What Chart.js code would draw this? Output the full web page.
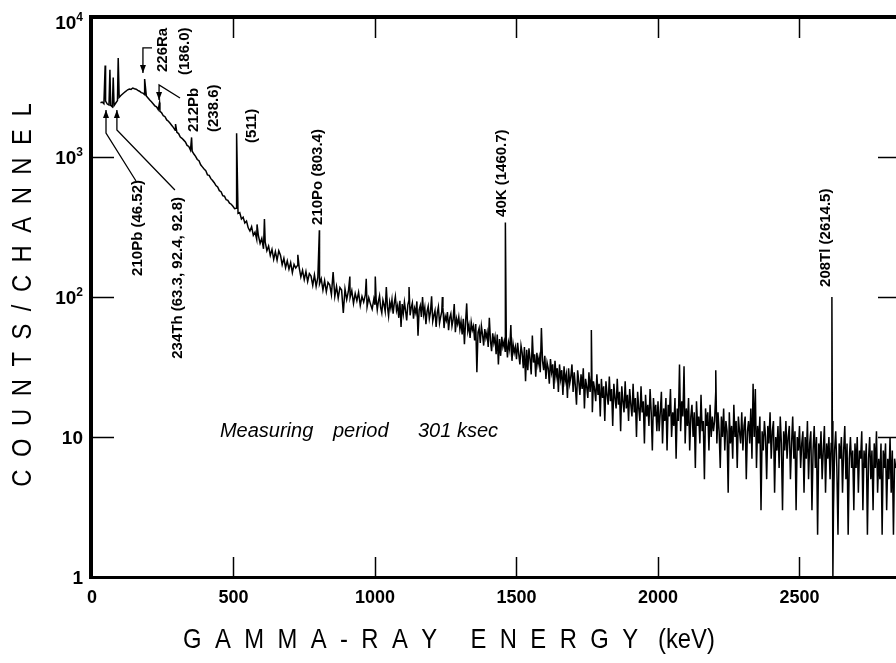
<!DOCTYPE html>
<html>
<head>
<meta charset="utf-8">
<script src="https://cdn.jsdelivr.net/npm/chart.js@4.4.1/dist/chart.umd.min.js"></script>
<style>
  html, body { margin: 0; padding: 0; background: #fff; }
  #wrap { width: 896px; height: 663px; }
</style>
</head>
<body>
<div id="wrap"><canvas id="chartEspectro" width="896" height="663"></canvas></div>
<script>
// ── DATOS: cuentas por canal ──
// 30 – 498 keV, cada 6 keV
const lowStart = 30, lowStep = 6;
const lowCounts = [2440, 2470, 2400, 2510, 2390, 2350, 2340, 2280, 2330, 2430, 2530, 2670, 2750, 2820, 2890, 2950,
  3020, 3060, 3040, 3110, 3070, 3050, 2990, 2950, 2880, 2860, 2790, 2730, 2640, 2550, 2480, 2400, 2320, 2280, 2180,
  2120, 2070, 1970, 1940, 1840, 1800, 1740, 1680, 1620, 1550, 1500, 1470, 1390, 1360, 1320, 1280, 1210, 1190, 1120,
  1100, 1050, 1010, 960, 940, 880, 850, 820, 800, 745, 740, 700, 680, 655, 625, 610, 575, 565, 530, 525, 495, 490,
  468, 460, 445];

// 504 – 996 keV, cada 6 keV
const midStart = 504, midStep = 6;
const midCounts = [428, 431, 396, 401, 361, 372, 338, 349, 312, 296, 318, 276, 291, 258, 274, 241, 262, 221, 247, 214,
  231, 198, 219, 186, 211, 183, 214, 199, 170, 189, 162, 181, 158, 176, 149, 171, 161, 168, 163, 139, 155, 133, 152,
  129, 147, 141, 121, 144, 119, 138, 124, 135, 112, 131, 109, 127, 122, 104, 151, 101, 119, 98, 117, 112, 77, 114,
  96, 110, 99, 111, 90, 106, 94, 108, 87, 101, 92, 104, 85, 99, 89, 82, 97];

// 1000 – 1996 keV, cada 4 keV
const highStart = 1000, highStep = 4;
const highCounts = [
  88, 97, 81, 93, 102, 84, 77, 95, 88, 79, 118, 85, 73, 92, 83, 96, 76, 90, 101, 80, 87, 71, 94, 61, 89,
  76, 92, 80, 68, 88, 95, 74, 84, 91, 70, 83, 77, 93, 53, 81, 87, 72, 100, 75, 84, 64, 79, 86, 70, 78,
  101, 67, 74, 80, 61, 77, 85, 65, 72, 79, 84, 60, 73, 68, 78, 58, 71, 76, 62, 69, 89, 56, 70, 64, 72,
  59, 67, 54, 70, 46, 66, 90, 57, 63, 51, 66, 58, 62, 49, 64, 29, 56, 60, 47, 62, 54, 45, 59, 51, 56,
  44, 71, 49, 41, 55, 47, 52, 39, 54, 33, 50, 38, 52, 44, 48, 41, 50, 37, 47, 42, 63, 35, 46, 40, 44,
  36, 47, 39, 33, 45, 40, 31, 44, 25, 42, 30, 43, 36, 28, 53, 34, 39, 27, 40, 33, 37, 29, 60, 35, 30,
  38, 26, 34, 31, 24, 36, 29, 33, 22, 35, 27, 31, 21, 33, 26, 30, 20, 32, 25, 28, 19, 31, 24, 27, 33,
  21, 29, 23, 17, 30, 25, 20, 28, 22, 31, 16, 26, 23, 19, 29, 21, 27, 15, 25, 22, 18, 28, 20, 24, 14,
  26, 19, 23, 13, 25, 20, 17, 27, 18, 22, 12, 24, 19, 16, 26, 17, 21, 11, 23, 18, 15, 25, 16, 20, 13,
  22, 17, 14, 24, 15, 19, 10, 21, 16, 13, 23, 15, 18, 9, 20, 14, 17, 12, 22, 15, 8, 19, 14, 17, 11];

// 2000 – 2840 keV, cada 4 keV
const tailStart = 2000, tailStep = 4;
const tailCounts = [
  18, 11, 15, 21, 9, 16, 13, 19, 8, 17, 14, 22, 10, 15, 12, 19, 7, 16, 13, 33, 11, 18, 14, 32, 9,
  16, 12, 19, 8, 14, 17, 10, 15, 6, 18, 12, 14, 9, 20, 11, 13, 5, 16, 12, 15, 8, 17, 10, 14, 11,
  13, 21, 9, 15, 11, 6, 14, 10, 16, 8, 13, 11, 4, 15, 9, 12, 7, 17, 10, 13, 6, 14, 11, 9, 15,
  8, 12, 14, 5, 11, 13, 9, 16, 7, 24, 10, 22, 6, 12, 9, 14, 3, 11, 8, 13, 10, 5, 12, 9, 15,
  7, 11, 13, 4, 10, 8, 12, 6, 14, 9, 3, 11, 8, 13, 7, 10, 12, 5, 9, 14, 7, 11, 3, 10, 8,
  12, 6, 9, 11, 4, 10, 7, 13, 5, 9, 11, 3, 8, 12, 6, 10, 2, 9, 7, 11, 5, 8, 12, 4, 9,
  7, 10, 5, 9, 13, 3, 8, 11, 6, 2, 9, 7, 10, 4, 8, 12, 5, 9, 2, 7, 10, 6, 8, 3, 9,
  6, 10, 4, 8, 7, 11, 3, 8, 6, 9, 2, 7, 10, 5, 8, 3, 9, 6, 11, 4, 7, 5, 9, 2, 8,
  6, 9, 3, 7, 5, 10, 4, 8, 2, 7, 6];

// picos (energía keV / cuentas en el canal del pico)
const peakKeV = [46.5, 63.3, 75.0, 92.6, 186.0, 238.6, 295.2, 351.9, 511.0, 583.2, 609.3, 727.3, 803.4, 911.2,
  969.0, 1001.0, 1120.3, 1238.1, 1460.7, 1764.5, 2204.1, 2614.5, 2618.0];
const peakCounts = [4500, 4200, 3700, 5100, 3600, 2450, 1720, 1380, 1480, 330, 360, 200, 300, 140,
  135, 140, 118, 100, 340, 58, 30, 100, 1];

const xTickValues = [0, 500, 1000, 1500, 2000, 2500];
const yTicks = [1, 10, 100, 1000, 10000];
const yTickBase = ["1", "10", "10", "10", "10"];
const yTickExp = ["", "", "2", "3", "4"];

// ── tabla de puntos ──
const puntos = [];
[[lowStart, lowStep, lowCounts], [midStart, midStep, midCounts],
 [highStart, highStep, highCounts], [tailStart, tailStep, tailCounts]]
  .forEach(([s, st, arr]) => arr.forEach((c, i) => puntos.push({ x: s + i * st, y: c })));
peakKeV.forEach((e, i) => puntos.push({ x: e, y: peakCounts[i] }));
puntos.sort((a, b) => a.x - b.x);

// ── anotaciones (posición en unidades de datos: keV / cuentas) ──
const FONT = "'Liberation Sans', Arial, sans-serif";
const etiquetas = [
  { text: "210Pb (46.52)", e: 161, c: 685, anchor: "end" },
  { text: "234Th (63.3, 92.4, 92.8)", e: 304, c: 518, anchor: "end" },
  { text: "226Ra", e: 251, c: 4046, anchor: "start" },
  { text: "(186.0)", e: 329, c: 3853, anchor: "start" },
  { text: "212Pb", e: 360, c: 1509, anchor: "start" },
  { text: "(238.6)", e: 431, c: 1509, anchor: "start" },
  { text: "(511)", e: 565, c: 1259, anchor: "start" },
  { text: "210Po (803.4)", e: 799, c: 327, anchor: "start" },
  { text: "40K (1460.7)", e: 1449, c: 373, anchor: "start" },
  { text: "208Tl (2614.5)", e: 2594, c: 118, anchor: "start" }
];
// líneas guía: la flecha va en el primer punto (arrowAt: "first") o en el último
const guias = [
  { pts: [[49.5, 2167], [49.5, 1484], [155.5, 674]], arrowAt: "first" },
  { pts: [[88, 2167], [88, 1560], [293, 581]], arrowAt: "first" },
  { pts: [[212, 6010], [180, 6010], [180, 3981]], arrowAt: "last" },
  { pts: [[311, 2637], [237, 3268], [237, 2553]], arrowAt: "last" }
];

function arrowHead(ctx, x1, y1, x2, y2) {
  // punta en (x2, y2)
  const a = Math.atan2(y2 - y1, x2 - x1);
  ctx.beginPath();
  ctx.moveTo(x2, y2);
  ctx.lineTo(x2 - 8 * Math.cos(a) + 3 * Math.sin(a), y2 - 8 * Math.sin(a) - 3 * Math.cos(a));
  ctx.lineTo(x2 - 8 * Math.cos(a) - 3 * Math.sin(a), y2 - 8 * Math.sin(a) + 3 * Math.cos(a));
  ctx.closePath();
  ctx.fill();
}

function spacedText(ctx, parts, cx, cy, rot, font, sx) {
  ctx.save();
  ctx.translate(cx, cy);
  if (rot) ctx.rotate(rot);
  ctx.font = font;
  ctx.textBaseline = "middle";
  ctx.textAlign = "left";
  const glyphs = [];
  parts.forEach(p => [...p.t].forEach(ch => glyphs.push({ ch, w: ctx.measureText(ch).width * sx, gap: p.gap })));
  let total = 0;
  glyphs.forEach((g, i) => { total += g.w + (i < glyphs.length - 1 ? g.gap : 0); });
  let x = -total / 2;
  glyphs.forEach(g => {
    ctx.save();
    ctx.translate(x, 0);
    ctx.scale(sx, 1);
    ctx.fillText(g.ch, 0, 0);
    ctx.restore();
    x += g.w + g.gap;
  });
  ctx.restore();
}

const marco = {
  id: "marco",
  afterDatasetsDraw(chart) {
    const { ctx, chartArea: a, scales: { x, y } } = chart;
    ctx.save();
    ctx.fillStyle = "#000";
    ctx.strokeStyle = "#000";

    // marco
    ctx.lineWidth = 4;
    ctx.beginPath(); ctx.moveTo(89, a.top); ctx.lineTo(a.right, a.top); ctx.stroke();
    ctx.beginPath(); ctx.moveTo(a.left - 1, a.top - 2); ctx.lineTo(a.left - 1, a.bottom + 2); ctx.stroke();
    ctx.lineWidth = 3;
    ctx.beginPath(); ctx.moveTo(89, a.bottom + 0.5); ctx.lineTo(a.right, a.bottom + 0.5); ctx.stroke();

    // marcas hacia adentro
    ctx.lineWidth = 1.5;
    xTickValues.slice(1).forEach(v => {
      const px = Math.round(x.getPixelForValue(v)) + 0.5;
      ctx.beginPath(); ctx.moveTo(px, a.top); ctx.lineTo(px, a.top + 21); ctx.stroke();
      ctx.beginPath(); ctx.moveTo(px, a.bottom); ctx.lineTo(px, a.bottom - 20); ctx.stroke();
    });
    [10, 100, 1000].forEach(v => {
      const py = Math.round(y.getPixelForValue(v)) + 0.5;
      ctx.beginPath(); ctx.moveTo(a.left, py); ctx.lineTo(a.left + 22, py); ctx.stroke();
      ctx.beginPath(); ctx.moveTo(a.right - 18, py); ctx.lineTo(a.right, py); ctx.stroke();
    });

    // etiquetas eje Y (10^n)
    yTicks.forEach((v, i) => {
      const py = Math.max(y.getPixelForValue(v) + 7, 29);
      ctx.font = "bold 19px " + FONT;
      const wb = ctx.measureText(yTickBase[i]).width;
      ctx.font = "bold 12px " + FONT;
      const we = ctx.measureText(yTickExp[i]).width;
      const x0 = 83 - wb - we;
      ctx.textAlign = "left";
      ctx.textBaseline = "alphabetic";
      ctx.font = "bold 19px " + FONT;
      ctx.fillText(yTickBase[i], x0, py);
      ctx.font = "bold 12px " + FONT;
      ctx.fillText(yTickExp[i], x0 + wb, py - 8);
    });

    // títulos de ejes
    spacedText(ctx, [{ t: "COUNTS/CHANNEL", gap: 12.5 }], 23, 295, -Math.PI / 2, "28px " + FONT, 0.85);
    spacedText(ctx, [{ t: "GAMMA-RAY ENERGY", gap: 13.4 }, { t: " (keV)", gap: 0 }], 449, 640, 0, "28px " + FONT, 0.85);

    // etiquetas de picos (rotadas)
    ctx.font = "bold 15px " + FONT;
    ctx.textBaseline = "middle";
    etiquetas.forEach(l => {
      ctx.save();
      ctx.translate(x.getPixelForValue(l.e), y.getPixelForValue(l.c));
      ctx.rotate(-Math.PI / 2);
      ctx.textAlign = l.anchor === "start" ? "left" : "right";
      ctx.fillText(l.text, 0, 0);
      ctx.restore();
    });

    // líneas guía con flecha
    ctx.lineWidth = 1.3;
    guias.forEach(g => {
      const p = g.pts.map(([e, c]) => [x.getPixelForValue(e), y.getPixelForValue(c)]);
      ctx.beginPath();
      p.forEach(([px, py], i) => (i ? ctx.lineTo(px, py) : ctx.moveTo(px, py)));
      ctx.stroke();
      if (g.arrowAt === "first") arrowHead(ctx, p[1][0], p[1][1], p[0][0], p[0][1]);
      else arrowHead(ctx, p[p.length - 2][0], p[p.length - 2][1], p[p.length - 1][0], p[p.length - 1][1]);
    });

    // período de medida
    ctx.font = "italic 20px " + FONT;
    ctx.textAlign = "left";
    ctx.textBaseline = "alphabetic";
    const mx = x.getPixelForValue(452), my = y.getPixelForValue(10);
    [["Measuring", 0], ["period", 113], ["301", 198], ["ksec", 237]]
      .forEach(([w, dx]) => ctx.fillText(w, mx + dx, my));

    ctx.restore();
  }
};

new Chart(document.getElementById("chartEspectro"), {
  type: "line",
  data: {
    datasets: [{
      data: puntos, borderColor: "#000", borderWidth: 1.5, pointRadius: 0, tension: 0, fill: false
    }]
  },
  options: {
    responsive: false,
    animation: false,
    devicePixelRatio: 1,
    layout: { padding: { top: 17, left: 0, right: 0, bottom: 0 } },
    plugins: { legend: { display: false }, tooltip: { enabled: false } },
    scales: {
      x: {
        type: "linear", min: 0, max: 2841,
        grid: { display: false, drawTicks: false }, border: { display: false },
        afterFit: s => { s.height = 86; },
        afterBuildTicks: s => { s.ticks = xTickValues.map(v => ({ value: v })); },
        ticks: {
          autoSkip: false, maxRotation: 0, padding: 10,
          color: "#000", font: { family: FONT, size: 18, weight: "bold" },
          callback: v => String(v)
        }
      },
      y: {
        type: "logarithmic", min: 1, max: 10000,
        grid: { display: false }, border: { display: false },
        ticks: { display: false },
        afterFit: s => { s.width = 92; }
      }
    }
  },
  plugins: [marco]
});
</script>
</body>
</html>
